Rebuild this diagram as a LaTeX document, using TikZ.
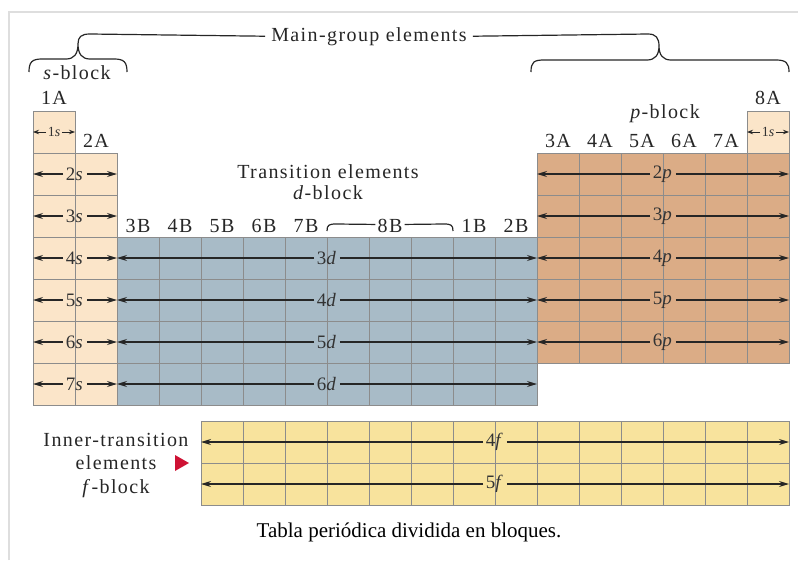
\documentclass[tikz,border=0pt]{standalone}
\usepackage{fontspec}
\setmainfont{Liberation Serif}
\usetikzlibrary{arrows.meta}

\definecolor{sblock}{RGB}{251,229,201}
\definecolor{dblock}{RGB}{168,187,199}
\definecolor{pblock}{RGB}{219,172,134}
\definecolor{fblock}{RGB}{248,227,157}
\definecolor{gridgray}{RGB}{140,140,140}
\definecolor{framegray}{RGB}{222,222,222}
\definecolor{pointer}{RGB}{206,18,52}

% one row of a block: label in the middle, arrows out to both edges
\newcommand{\orbrow}[5]{%
  \coordinate (#1-l) at ({#2},{#4});
  \coordinate (#1-r) at ({#3},{#4});
  \node[orblbl] (#1) at ({(#2+#3)/2},{#4}) {#5};
  \draw[orb] (#1) -- (#1-l);
  \draw[orb] (#1) -- (#1-r);
}

\begin{document}
\begin{tikzpicture}[x=1pt,y=-1pt,
  cell/.style={draw=gridgray,line width=1pt},
  orb/.style={-{Stealth[length=10pt,width=6pt]},line width=1.1pt,black!85},
  orblbl/.style={font=\fontsize{19}{21}\selectfont\addfontfeature{LetterSpace=7},inner sep=2.5pt,text=black!80},
  lbl/.style={font=\fontsize{20}{22}\selectfont\addfontfeature{LetterSpace=7},anchor=base,inner sep=2pt,text=black!85},
  brace/.style={line width=1.2pt,black!85}]
\useasboundingbox (0,0) rectangle (798,560);
\draw[framegray,line width=1.5pt] (9,560) -- (9,12) -- (798,12);

% blocks
\foreach \r in {0,...,6} \draw[cell,fill=sblock] (33,{111+42*\r}) rectangle +(42,42);
\foreach \r in {1,...,6} \draw[cell,fill=sblock] (75,{111+42*\r}) rectangle +(42,42);
\foreach \c in {0,...,9} \foreach \r in {3,...,6}
  \draw[cell,fill=dblock] ({117+42*\c},{111+42*\r}) rectangle +(42,42);
\foreach \c in {0,...,5} \foreach \r in {1,...,5}
  \draw[cell,fill=pblock] ({537+42*\c},{111+42*\r}) rectangle +(42,42);
\draw[cell,fill=sblock] (747,111) rectangle +(42,42);
\foreach \c in {0,...,13} \foreach \r in {0,1}
  \draw[cell,fill=fblock] ({201+42*\c},{421+42*\r}) rectangle +(42,42);

% orbital rows
\begin{scope}[orb/.style={-{Stealth[length=6pt,width=4.5pt]},line width=0.9pt,black!85},
  orblbl/.style={font=\fontsize{14}{16}\selectfont,inner sep=1.5pt,text=black!80}]
  \orbrow{h1}{33}{75}{132}{1\textit{s}}
  \orbrow{he1}{747}{789}{132}{1\textit{s}}
\end{scope}
\foreach \n in {2,...,7} {\orbrow{s\n}{33}{117}{132+42*(\n-1)}{\n\textit{s}}}
\foreach \n in {3,...,6} {\orbrow{d\n}{117}{537}{132+42*\n}{\n\textit{d}}}
\foreach \n in {2,...,6} {\orbrow{p\n}{537}{789}{132+42*(\n-1)}{\n\textit{p}}}
\foreach \n in {4,5} {\orbrow{f\n}{201}{789}{442+42*(\n-4)}{\n\textit{f}}}

% group labels
\node[lbl] (g1) at (54,104) {1A};
\node[lbl] (g2) at (96,147) {2A};
\foreach \g [count=\i from 0] in {3A,4A,5A,6A,7A}
  \node[lbl] (gA\g) at ({558+42*\i},147) {\g};
\node[lbl] (g8) at (768,104) {8A};
\foreach \g [count=\i from 0] in {3B,4B,5B,6B,7B}
  \node[lbl] (gB\g) at ({138+42*\i},232) {\g};
\node[lbl] (b8) at (390,232) {8B};
\node[lbl] (b1) at (474,232) {1B};
\node[lbl] (b2) at (516,232) {2B};
\coordinate (b8l) at (327,231);
\coordinate (b8r) at (453,231);
\draw[brace] (b8l) .. controls (327,225) and (329,224) .. (336,224) -- ([yshift=1pt]b8.west);
\draw[brace] ([yshift=1pt]b8.east) -- (444,224) .. controls (451,224) and (453,225) .. (b8r);

\node[lbl] (trans) at (328,178) {Transition elements};
\node[lbl] (dblk) at (328,199) {\textit{d}-block};
\node[lbl] (pblk) at (665,118) {\textit{p}-block};
\node[lbl] (sblk) at (77,79) {\textit{s}-block};

% braces and main-group line
\coordinate (scusp) at (78,44);
\coordinate (pcusp) at (659,46);
\node[lbl,inner xsep=6pt] (main) at (369,41) {Main-group elements};
\draw[brace] (29,72) .. controls (29,62) and (32,59) .. (42,59) -- (66,59)
  .. controls (74,59) and (78,54) .. (scusp) .. controls (78,54) and (82,59) .. (90,59)
  -- (114,59) .. controls (124,59) and (127,62) .. (127,72);
\draw[brace] (531,72) .. controls (531,62) and (534,60) .. (544,60) -- (647,60)
  .. controls (655,60) and (659,55) .. (pcusp) .. controls (659,55) and (663,60) .. (671,60)
  -- (776,60) .. controls (786,60) and (789,63) .. (789,72);
\draw[brace] (scusp) .. controls (78,37) and (81,34) .. (90,34) -- (main.west);
\draw[brace] (main.east) -- (648,34) .. controls (656,34) and (659,38) .. (pcusp);

% inner transition
\node[lbl] (inner1) at (116,446) {Inner-transition};
\node[lbl] (inner2) at (116,469) {elements};
\node[lbl] (inner3) at (116,493) {\textit{f}-block};
\fill[pointer] (175,455) -- (189,463) -- (175,471) -- cycle;

\node[font=\fontsize{21}{24}\selectfont,anchor=base] (caption) at (409,537) {Tabla periódica dividida en bloques.};
\end{tikzpicture}
\end{document}
